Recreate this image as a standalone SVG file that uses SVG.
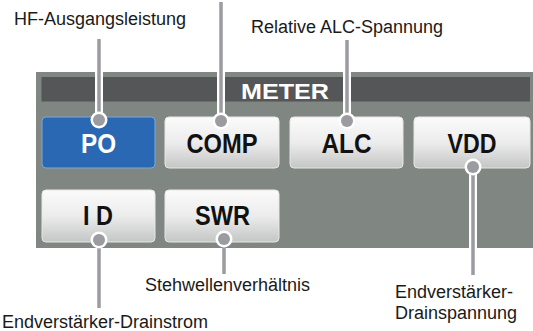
<svg xmlns="http://www.w3.org/2000/svg" width="533" height="331" viewBox="0 0 533 331">
<style>
.lbl{font-family:"Liberation Sans",Arial,sans-serif;font-size:18px;fill:#1a1a1a}
.btxt{font-family:"Liberation Sans",Arial,sans-serif;font-weight:bold;font-size:27px;fill:#111;text-anchor:middle}
.btn{fill:url(#gBtn);stroke:#e6e6e6;stroke-width:1}
.halo{stroke:#fff;stroke-width:8;fill:none}
.ln{stroke:#9b9ba0;stroke-width:3.5;fill:none}
.dotw{fill:#fff}
.dotg{fill:#9b9ba0}
</style>
<defs>
<linearGradient id="gBtn" x1="0" y1="0" x2="0" y2="1">
<stop offset="0" stop-color="#fbfbfb"/>
<stop offset="0.5" stop-color="#ececec"/>
<stop offset="1" stop-color="#c4c6c5"/>
</linearGradient>
</defs>
<rect width="533" height="331" fill="#fff"/>
<g id="panel">
<rect x="36" y="72" width="497" height="176" fill="#808681"/>
<rect x="41.5" y="77" width="488.5" height="24.5" fill="#555657"/>
<text x="285" y="99" textLength="88" lengthAdjust="spacingAndGlyphs" style="font-family:'Liberation Sans',Arial,sans-serif;font-weight:bold;font-size:22px;fill:#fff;text-anchor:middle">METER</text>
</g>
<g id="btn-po">
<rect x="42" y="117" width="113" height="51" rx="4" fill="#2a68b3" stroke="#7fa6d6" stroke-width="1"/>
<text class="btxt" x="98.5" y="153" textLength="35" lengthAdjust="spacingAndGlyphs" style="fill:#fff">PO</text>
</g>
<g id="btn-comp">
<rect class="btn" x="165" y="117" width="114" height="51" rx="4"/>
<text class="btxt" x="222" y="153" textLength="71" lengthAdjust="spacingAndGlyphs">COMP</text>
</g>
<g id="btn-alc">
<rect class="btn" x="290" y="117" width="113" height="51" rx="4"/>
<text class="btxt" x="346.5" y="153" textLength="50" lengthAdjust="spacingAndGlyphs">ALC</text>
</g>
<g id="btn-vdd">
<rect class="btn" x="414" y="117" width="116" height="51" rx="4"/>
<text class="btxt" x="472" y="153" textLength="49" lengthAdjust="spacingAndGlyphs">VDD</text>
</g>
<g id="btn-id">
<rect class="btn" x="42" y="190" width="113" height="52" rx="4"/>
<text class="btxt" x="98" y="225" textLength="30" lengthAdjust="spacingAndGlyphs">I D</text>
</g>
<g id="btn-swr">
<rect class="btn" x="165" y="190" width="114" height="52" rx="4"/>
<text class="btxt" x="222.5" y="225" textLength="55" lengthAdjust="spacingAndGlyphs">SWR</text>
</g>
<g id="connectors">
<line class="halo" x1="99" y1="72" x2="99" y2="120"/>
<line class="halo" x1="221" y1="72" x2="221" y2="121"/>
<line class="halo" x1="347" y1="72" x2="347" y2="121"/>
<line class="halo" x1="473" y1="167" x2="473" y2="248"/>
<line class="ln" x1="99" y1="39" x2="99" y2="120"/>
<line class="ln" x1="221" y1="2" x2="221" y2="121"/>
<line class="ln" x1="347" y1="40" x2="347" y2="121"/>
<line class="ln" x1="473" y1="167" x2="473" y2="275"/>
<line class="ln" x1="99" y1="240" x2="99" y2="308"/>
<line class="ln" x1="224" y1="239" x2="224" y2="274"/>
<circle class="dotw" cx="99" cy="120" r="8.5"/><circle class="dotg" cx="99" cy="120" r="6"/>
<circle class="dotw" cx="221" cy="121" r="8.5"/><circle class="dotg" cx="221" cy="121" r="6"/>
<circle class="dotw" cx="347" cy="121" r="8.5"/><circle class="dotg" cx="347" cy="121" r="6"/>
<circle class="dotw" cx="473" cy="167" r="8.5"/><circle class="dotg" cx="473" cy="167" r="6"/>
<circle class="dotw" cx="99" cy="240" r="8.5"/><circle class="dotg" cx="99" cy="240" r="6"/>
<circle class="dotw" cx="224" cy="239" r="8.5"/><circle class="dotg" cx="224" cy="239" r="6"/>
</g>
<g id="label-po"><text class="lbl" x="14" y="25">HF-Ausgangsleistung</text></g>
<g id="label-alc"><text class="lbl" x="251" y="33">Relative ALC-Spannung</text></g>
<g id="label-swr"><text class="lbl" x="145" y="291">Stehwellenverhältnis</text></g>
<g id="label-id"><text class="lbl" x="2" y="328">Endverstärker-Drainstrom</text></g>
<g id="label-vdd"><text class="lbl" x="395" y="298">Endverstärker-</text><text class="lbl" x="395" y="319">Drainspannung</text></g>
</svg>
